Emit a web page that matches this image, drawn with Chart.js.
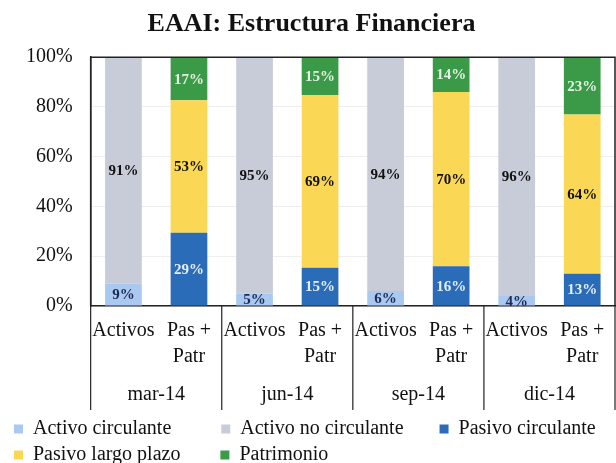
<!DOCTYPE html>
<html>
<head>
<meta charset="utf-8">
<script src="https://cdn.jsdelivr.net/npm/chart.js@4.4.1/dist/chart.umd.min.js"></script>
<style>
  html, body { margin: 0; padding: 0; background: #fff; overflow: hidden; }
</style>
</head>
<body>
<canvas id="myChart" width="616" height="463"></canvas>
<script>
// setup
const barLabels = ['Activos', ['Pas +', 'Patr'], 'Activos', ['Pas +', 'Patr'],
                   'Activos', ['Pas +', 'Patr'], 'Activos', ['Pas +', 'Patr']];
const periods = ['mar-14', 'jun-14', 'sep-14', 'dic-14'];
const yTicks = [0, 20, 40, 60, 80, 100];

// each series has one value per bar (Activos, Pas + Patr) x 4 periods
const activoCirculante   = [9, 0, 5, 0, 6, 0, 4, 0];
const activoNoCirculante = [91, 0, 95, 0, 94, 0, 96, 0];
const pasivoCirculante   = [0, 29.4, 0, 15.4, 0, 16, 0, 13];
const pasivoLargoPlazo   = [0, 53.3, 0, 69.4, 0, 70, 0, 64];
const patrimonio         = [0, 17.3, 0, 15.2, 0, 14, 0, 23];

const serif = "'Liberation Serif', 'Times New Roman', serif";

const data = {
  labels: barLabels,
  datasets: [
    { label: 'Activo circulante', data: activoCirculante, backgroundColor: '#a9c9f0', valueColor: '#1d2a55' },
    { label: 'Activo no circulante', data: activoNoCirculante, backgroundColor: '#c8ccd8', valueColor: '#111' },
    { label: 'Pasivo circulante', data: pasivoCirculante, backgroundColor: '#2a6cb8', valueColor: '#e6eef8' },
    { label: 'Pasivo largo plazo', data: pasivoLargoPlazo, backgroundColor: '#fad856', valueColor: '#111' },
    { label: 'Patrimonio', data: patrimonio, backgroundColor: '#3a9a48', valueColor: '#e4f2e4' }
  ]
};

// value labels in the middle of every segment
const segmentLabels = {
  id: 'segmentLabels',
  afterDatasetsDraw(chart) {
    const { ctx } = chart;
    ctx.save();
    ctx.font = 'bold 15px ' + serif;
    ctx.textAlign = 'center';
    ctx.textBaseline = 'middle';
    chart.data.datasets.forEach((ds, i) => {
      chart.getDatasetMeta(i).data.forEach((bar, j) => {
        const v = ds.data[j];
        if (!v) return;
        ctx.fillStyle = ds.valueColor;
        ctx.fillText(Math.round(v) + '%', bar.x, (bar.y + bar.base) / 2 + 1);
      });
    });
    ctx.restore();
  }
};

// frame round the plot and the period separators under it
const frameLines = {
  id: 'frameLines',
  afterDraw(chart) {
    const { ctx, chartArea: { top, bottom, left, right } } = chart;
    const x2 = chart.scales.x2;
    ctx.save();
    ctx.strokeStyle = '#222';
    ctx.lineWidth = 1.5;
    ctx.beginPath();
    ctx.moveTo(left, bottom);
    ctx.lineTo(left, top);
    ctx.lineTo(right, top);
    ctx.lineTo(right, bottom);
    ctx.stroke();
    ctx.lineWidth = 1.2;
    ctx.beginPath();
    const half = (x2.getPixelForTick(1) - x2.getPixelForTick(0)) / 2;
    for (let i = 0; i <= periods.length; i++) {
      const x = i < periods.length ? x2.getPixelForTick(i) - half : x2.getPixelForTick(i - 1) + half;
      ctx.moveTo(x, bottom);
      ctx.lineTo(x, x2.bottom - 3);
    }
    ctx.stroke();
    ctx.restore();
  }
};

// legend columns in the original sit further apart than chart.js packs them
const legendGap = ['\u2002\u2002\u2002\u2002\u2009', '\u2002\u2002\u2002', '',
                   '\u2002\u2002\u2002\u2009', ''];

// config
const config = {
  type: 'bar',
  data,
  options: {
    responsive: false,
    animation: false,
    barPercentage: 0.56,
    categoryPercentage: 1,
    layout: { padding: { left: 8, right: 1, top: 0, bottom: -12 } },
    plugins: {
      title: {
        display: true,
        text: 'EAAI: Estructura Financiera',
        color: '#111',
        font: { family: serif, size: 26, weight: 'bold' },
        padding: { top: 9, bottom: 17 }
      },
      legend: {
        position: 'bottom',
        align: 'start',
        labels: {
          color: '#111',
          font: { family: serif, size: 20 },
          boxWidth: 9,
          boxHeight: 9,
          padding: 6,
          generateLabels(chart) {
            const items = Chart.defaults.plugins.legend.labels.generateLabels(chart);
            items.forEach((it, i) => { it.text = it.text + legendGap[i]; });
            return items;
          }
        }
      },
      tooltip: { enabled: false }
    },
    scales: {
      x: {
        stacked: true,
        grid: { display: false },
        border: { display: true, color: '#222', width: 1.5 },
        ticks: {
          color: '#111',
          font: { family: serif, size: 20, lineHeight: 1.3 },
          padding: 4,
          maxRotation: 0,
          autoSkip: false
        }
      },
      x2: {
        type: 'category',
        labels: periods,
        position: 'bottom',
        grid: { display: false },
        border: { display: false },
        ticks: { color: '#111', font: { family: serif, size: 20 }, padding: 1 },
        afterFit(scale) { scale.height += 5; }
      },
      y: {
        stacked: true,
        min: 0,
        max: 100,
        afterBuildTicks(scale) { scale.ticks = yTicks.map(v => ({ value: v })); },
        grid: { color: '#eeeeee', drawTicks: false },
        border: { display: true, color: '#222', width: 1.5 },
        ticks: {
          color: '#111',
          font: { family: serif, size: 20 },
          padding: 18,
          callback: v => v + '%'
        }
      }
    }
  },
  plugins: [segmentLabels, frameLines]
};

// render init block
const myChart = new Chart(document.getElementById('myChart'), config);
</script>
</body>
</html>
